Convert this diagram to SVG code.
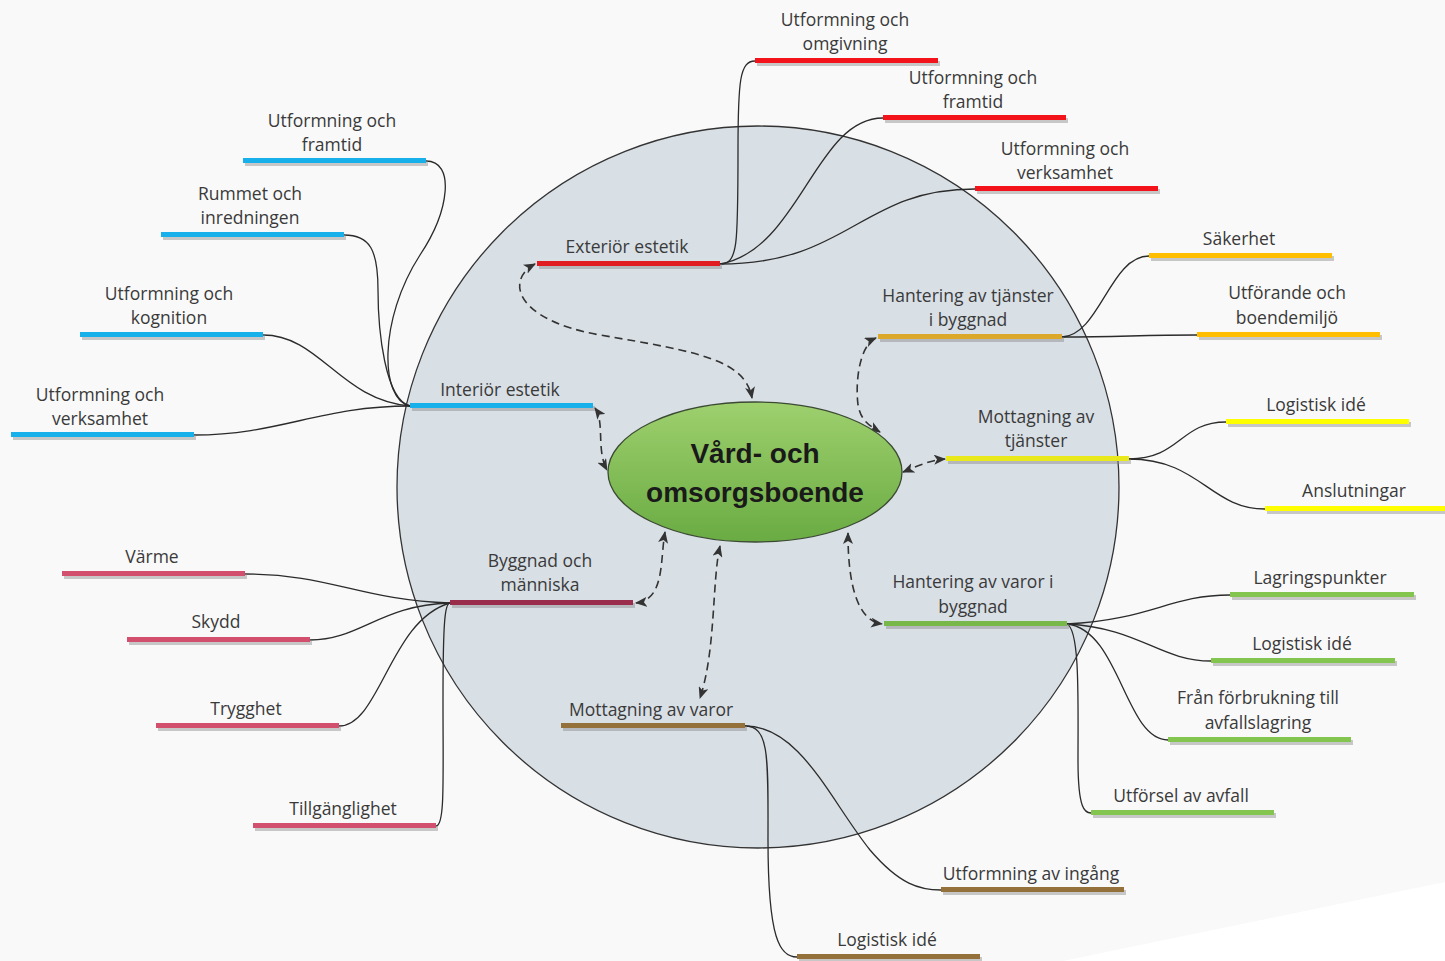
<svg xmlns="http://www.w3.org/2000/svg" width="1445" height="961" viewBox="0 0 1445 961">
<defs>
<style>
.t{font-family:"Open Sans","Liberation Sans",Arial,sans-serif;font-size:17.5px;fill:#3a3a3a;text-anchor:middle}
.c{fill:none;stroke:#2b2b2b;stroke-width:1.3}
.d{fill:none;stroke:#333;stroke-width:1.6;stroke-dasharray:8 5;marker-start:url(#ah);marker-end:url(#ah)}
.sh{fill:#8a8a8a;opacity:0.45}
.red{fill:#f2131b}
.red2{fill:#e01b22}
.blue{fill:#17b0ea}
.gold{fill:#ffbf00}
.gold2{fill:#dca82a}
.yel{fill:#ffff00}
.yel2{fill:#e8e81a}
.grn{fill:#84c54f}
.grn2{fill:#78b84a}
.pink{fill:#d2506e}
.pink2{fill:#9a2c4c}
.brn{fill:#94703a}
</style>
<marker id="ah" viewBox="0 0 12 10" refX="11" refY="5" markerWidth="12" markerHeight="10" markerUnits="userSpaceOnUse" orient="auto-start-reverse">
<path d="M0,0 L12,5 L0,10 L3,5 Z" fill="#333"/>
</marker>
<linearGradient id="gg" x1="0" y1="0" x2="0" y2="1">
<stop offset="0" stop-color="#9ed06e"/>
<stop offset="1" stop-color="#6aab43"/>
</linearGradient>
</defs>
<rect width="1445" height="961" fill="#f9f9f9"/>
<polygon points="1063,961 1445,882 1445,961" fill="#ffffff"/>
<circle id="ring" cx="758" cy="487" r="361" fill="#d8dfe5" stroke="#333" stroke-width="1.3"/>

<g id="connectors">
<path class="c" d="M720,264 C738,264 738,245 738,150 C738,80 740,61 755,61"/>
<path class="c" d="M720,264 C800,250 815,118 883,118"/>
<path class="c" d="M720,264 C850,264 860,189 975,189"/>
<path class="c" d="M410,406 C380,400 378,320 420,255 C450,210 455,161 426,161"/>
<path class="c" d="M410,406 C385,400 378,330 378,290 C378,250 370,235 344,235"/>
<path class="c" d="M410,406 C340,400 320,335 263,335"/>
<path class="c" d="M410,406 C320,406 280,435 194,435"/>
<path class="c" d="M1062,337 C1100,335 1110,256 1149,256"/>
<path class="c" d="M1062,337 C1120,337 1140,335 1197,335"/>
<path class="c" d="M1129,459 C1180,459 1180,422 1226,422"/>
<path class="c" d="M1129,459 C1200,459 1210,509 1265,509"/>
<path class="c" d="M1067,624 C1150,620 1170,595 1230,595"/>
<path class="c" d="M1067,624 C1140,628 1160,661 1211,661"/>
<path class="c" d="M1067,624 C1120,630 1125,740 1168,740"/>
<path class="c" d="M1067,624 C1080,630 1078,700 1078,760 C1078,810 1085,813 1091,813"/>
<path class="c" d="M450,603 C360,600 330,574 245,574"/>
<path class="c" d="M450,603 C380,605 360,640 310,640"/>
<path class="c" d="M450,603 C390,620 380,726 339,726"/>
<path class="c" d="M450,603 C445,603 443,620 443,700 C443,780 445,826 436,826"/>
<path class="c" d="M745,726 C800,726 830,800 870,850 C900,885 920,890 941,890"/>
<path class="c" d="M745,726 C770,726 768,760 768,840 C768,940 780,957 797,957"/>
<path class="d" d="M535,264 C505,280 515,320 600,335 C700,352 745,360 752,398"/>
<path class="d" d="M595,408 C605,422 596,450 607,470"/>
<path class="d" d="M876,338 C860,345 855,380 858,405 C861,420 868,425 880,432"/>
<path class="d" d="M903,472 C915,467 930,460 945,459"/>
<path class="d" d="M848,533 C848,560 850,620 882,624"/>
<path class="d" d="M720,546 C712,580 716,650 700,698"/>
<path class="d" d="M636,603 C665,600 660,560 665,532"/>
</g>

<g id="center">
<ellipse cx="755" cy="472" rx="147" ry="70" fill="url(#gg)" stroke="#3c4a34" stroke-width="1.3"/>
<text x="755" y="463" style="font-family:'Liberation Sans',Arial,sans-serif;font-size:28px;font-weight:bold;fill:#1a1a1a;text-anchor:middle">Vård- och</text>
<text x="755" y="502" style="font-family:'Liberation Sans',Arial,sans-serif;font-size:28px;font-weight:bold;fill:#1a1a1a;text-anchor:middle">omsorgsboende</text>
</g>

<g id="exterior"><rect class="sh" x="539" y="264" width="183" height="5"/><rect class="red2" x="537" y="261" width="183" height="5"/><text class="t" x="627" y="253">Exteriör estetik</text></g>
<g id="ext-omgivning"><rect class="sh" x="757" y="61" width="183" height="5"/><rect class="red" x="755" y="58" width="183" height="5"/><text class="t" x="845" y="26">Utformning och</text><text class="t" x="845" y="50">omgivning</text></g>
<g id="ext-framtid"><rect class="sh" x="885" y="118" width="183" height="5"/><rect class="red" x="883" y="115" width="183" height="5"/><text class="t" x="973" y="84">Utformning och</text><text class="t" x="973" y="108">framtid</text></g>
<g id="ext-verksamhet"><rect class="sh" x="977" y="189" width="183" height="5"/><rect class="red" x="975" y="186" width="183" height="5"/><text class="t" x="1065" y="155">Utformning och</text><text class="t" x="1065" y="179">verksamhet</text></g>

<g id="interior"><rect class="sh" x="412" y="406" width="183" height="5"/><rect class="blue" x="410" y="403" width="183" height="5"/><text class="t" x="500" y="396">Interiör estetik</text></g>
<g id="int-framtid"><rect class="sh" x="245" y="161" width="183" height="5"/><rect class="blue" x="243" y="158" width="183" height="5"/><text class="t" x="332" y="127">Utformning och</text><text class="t" x="332" y="151">framtid</text></g>
<g id="int-rummet"><rect class="sh" x="163" y="235" width="183" height="5"/><rect class="blue" x="161" y="232" width="183" height="5"/><text class="t" x="250" y="200">Rummet och</text><text class="t" x="250" y="224">inredningen</text></g>
<g id="int-kognition"><rect class="sh" x="82" y="335" width="183" height="5"/><rect class="blue" x="80" y="332" width="183" height="5"/><text class="t" x="169" y="300">Utformning och</text><text class="t" x="169" y="324">kognition</text></g>
<g id="int-verksamhet"><rect class="sh" x="13" y="435" width="183" height="5"/><rect class="blue" x="11" y="432" width="183" height="5"/><text class="t" x="100" y="401">Utformning och</text><text class="t" x="100" y="425">verksamhet</text></g>

<g id="hant-tjanster"><rect class="sh" x="880" y="337" width="184" height="5"/><rect class="gold2" x="878" y="334" width="184" height="5"/><text class="t" x="968" y="302">Hantering av tjänster</text><text class="t" x="968" y="326">i byggnad</text></g>
<g id="sakerhet"><rect class="sh" x="1151" y="256" width="183" height="5"/><rect class="gold" x="1149" y="253" width="183" height="5"/><text class="t" x="1239" y="245">Säkerhet</text></g>
<g id="utforande"><rect class="sh" x="1199" y="335" width="183" height="5"/><rect class="gold" x="1197" y="332" width="183" height="5"/><text class="t" x="1287" y="299">Utförande och</text><text class="t" x="1287" y="324">boendemiljö</text></g>

<g id="mott-tjanster"><rect class="sh" x="948" y="459" width="183" height="5"/><rect class="yel2" x="946" y="456" width="183" height="5"/><text class="t" x="1036" y="423">Mottagning av</text><text class="t" x="1036" y="447">tjänster</text></g>
<g id="tj-logistisk"><rect class="sh" x="1228" y="422" width="183" height="5"/><rect class="yel" x="1226" y="419" width="183" height="5"/><text class="t" x="1316" y="411">Logistisk idé</text></g>
<g id="anslutningar"><rect class="sh" x="1267" y="509" width="183" height="5"/><rect class="yel" x="1265" y="506" width="183" height="5"/><text class="t" x="1354" y="497">Anslutningar</text></g>

<g id="hant-varor"><rect class="sh" x="886" y="624" width="183" height="5"/><rect class="grn2" x="884" y="621" width="183" height="5"/><text class="t" x="973" y="588">Hantering av varor i</text><text class="t" x="973" y="613">byggnad</text></g>
<g id="lagring"><rect class="sh" x="1232" y="595" width="184" height="5"/><rect class="grn" x="1230" y="592" width="184" height="5"/><text class="t" x="1320" y="584">Lagringspunkter</text></g>
<g id="va-logistisk"><rect class="sh" x="1213" y="661" width="184" height="5"/><rect class="grn" x="1211" y="658" width="184" height="5"/><text class="t" x="1302" y="650">Logistisk idé</text></g>
<g id="forbrukning"><rect class="sh" x="1170" y="740" width="183" height="5"/><rect class="grn" x="1168" y="737" width="183" height="5"/><text class="t" x="1258" y="704">Från förbrukning till</text><text class="t" x="1258" y="729">avfallslagring</text></g>
<g id="utforsel"><rect class="sh" x="1093" y="813" width="183" height="5"/><rect class="grn" x="1091" y="810" width="183" height="5"/><text class="t" x="1181" y="802">Utförsel av avfall</text></g>

<g id="byggnad"><rect class="sh" x="452" y="603" width="183" height="5"/><rect class="pink2" x="450" y="600" width="183" height="5"/><text class="t" x="540" y="567">Byggnad och</text><text class="t" x="540" y="591">människa</text></g>
<g id="varme"><rect class="sh" x="64" y="574" width="183" height="5"/><rect class="pink" x="62" y="571" width="183" height="5"/><text class="t" x="152" y="563">Värme</text></g>
<g id="skydd"><rect class="sh" x="129" y="640" width="183" height="5"/><rect class="pink" x="127" y="637" width="183" height="5"/><text class="t" x="216" y="628">Skydd</text></g>
<g id="trygghet"><rect class="sh" x="158" y="726" width="183" height="5"/><rect class="pink" x="156" y="723" width="183" height="5"/><text class="t" x="246" y="715">Trygghet</text></g>
<g id="tillganglighet"><rect class="sh" x="255" y="826" width="183" height="5"/><rect class="pink" x="253" y="823" width="183" height="5"/><text class="t" x="343" y="815">Tillgänglighet</text></g>

<g id="mott-varor"><rect class="sh" x="563" y="726" width="184" height="5"/><rect class="brn" x="561" y="723" width="184" height="5"/><text class="t" x="651" y="716">Mottagning av varor</text></g>
<g id="ingang"><rect class="sh" x="943" y="890" width="183" height="5"/><rect class="brn" x="941" y="887" width="183" height="5"/><text class="t" x="1031" y="880">Utformning av ingång</text></g>
<g id="mv-logistisk"><rect class="sh" x="799" y="957" width="183" height="5"/><rect class="brn" x="797" y="954" width="183" height="5"/><text class="t" x="887" y="946">Logistisk idé</text></g>
</svg>
